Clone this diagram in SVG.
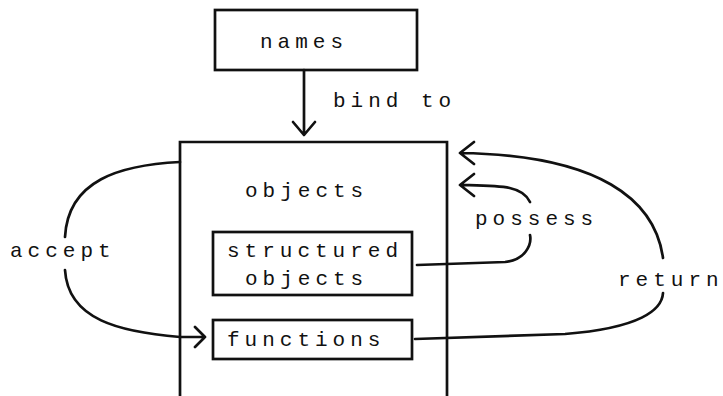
<svg xmlns="http://www.w3.org/2000/svg" width="723" height="396" viewBox="0 0 723 396">
<style>
.b{fill:none;stroke:#111;stroke-width:2.7}
.c{fill:none;stroke:#111;stroke-width:2.7;stroke-linecap:round;stroke-linejoin:round}
text{font-family:"Liberation Mono","DejaVu Sans Mono",monospace;font-size:21px;letter-spacing:5px;fill:#111}
</style>
<rect width="723" height="396" fill="#fff"/>
<g id="names"><rect class="b" x="215" y="10" width="202" height="60"/><text x="260" y="48">names</text></g>
<g id="objects"><path class="b" d="M180,396 L180,142 L447,142 L447,396"/><text x="245" y="197">objects</text></g>
<g id="structured"><rect class="b" x="213" y="232" width="199" height="63"/><text x="227" y="257">structured</text><text x="245" y="285">objects</text></g>
<g id="functions"><rect class="b" x="213" y="320" width="199" height="39"/><text x="227" y="346">functions</text></g>
<g id="connectors">
<path class="c" d="M304,70 L304,135 M293,122 L304,135 L315,122"/>
<text x="333" y="107">bind to</text>
<path class="c" d="M180,162 C120,165 68,180 65,237 M65,270 C68,320 120,332 180,337 L205,337 M195,327 L205,337 L195,347"/>
<text x="10" y="257">accept</text>
<path class="c" d="M417,265 L505,262 C525,260 532,245 530,235 M530,202 C522,185 500,186 460,185 M474,174 L460,185 L474,196"/>
<text x="475" y="225">possess</text>
<path class="c" d="M415,339 L565,334 C640,328 662,310 663,293 M663,258 C655,200 600,155 460,153 M474,142 L460,153 L474,164"/>
<text x="618" y="286">return</text>
</g>
</svg>
